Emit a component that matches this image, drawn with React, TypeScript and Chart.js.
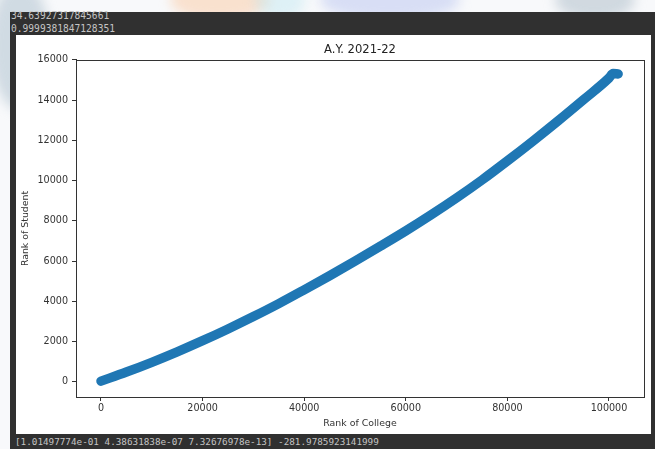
import React, { useEffect, useRef } from "react";
import { Chart, registerables } from "chart.js";

Chart.register(...registerables);

// College rank (x) against the closing student rank (y), read along the fitted band
const collegeRank = [
  0, 5000, 10000, 15000, 20000, 25000, 30000, 35000, 40000, 45000, 50000, 55000,
  60000, 65000, 70000, 75000, 80000, 85000, 90000, 95000, 100000, 100800, 101800,
];
const studentRank = [
  30, 480, 965, 1485, 2040, 2625, 3240, 3885, 4570, 5270, 5995, 6740,
  7500, 8300, 9140, 10030, 10980, 11960, 12975, 14025, 15100, 15320, 15300,
];

const xTickValues = [0, 20000, 40000, 60000, 80000, 100000];
const yTickValues = [0, 2000, 4000, 6000, 8000, 10000, 12000, 14000, 16000];

const chartTitle = "A.Y. 2021-22";
const xAxisLabel = "Rank of College";
const yAxisLabel = "Rank of Student";

// Console output printed around the figure
const headerLines = ["34.63927317845661", "0.9999381847128351"];
const footerLine = "[1.01497774e-01 4.38631838e-07 7.32676978e-13] -281.9785923141999";

const BLUE = "#1f77b4";
const INK = "#333333";
const FONT = "'DejaVu Sans', sans-serif";
const MONO = "'DejaVu Sans Mono', monospace";

// Full rectangular frame around the axes (top and right spines included)
const axesBox = {
  id: "axesBox",
  afterDraw(chart: any) {
    const { ctx, chartArea } = chart;
    ctx.save();
    ctx.strokeStyle = INK;
    ctx.lineWidth = 1;
    ctx.strokeRect(
      Math.round(chartArea.left) + 0.5,
      Math.round(chartArea.top) + 0.5,
      Math.round(chartArea.right - chartArea.left),
      Math.round(chartArea.bottom - chartArea.top)
    );
    ctx.restore();
  },
};

export default function App() {
  const canvasRef = useRef<HTMLCanvasElement>(null);

  useEffect(() => {
    document.body.style.margin = "0";
    const canvas = canvasRef.current;
    if (!canvas) return;

    const points = collegeRank.map((x, i) => ({ x, y: studentRank[i] }));

    const tickFont = { family: FONT, size: 9.6 };
    const axisCommon = {
      type: "linear" as const,
      grid: {
        display: true,
        drawOnChartArea: false,
        drawTicks: true,
        tickLength: 4,
        color: INK,
        lineWidth: 1,
      },
      border: { display: true, color: INK, width: 1 },
    };

    const chart = new Chart(canvas, {
      type: "scatter",
      data: {
        datasets: [
          {
            data: points,
            showLine: true,
            borderColor: BLUE,
            backgroundColor: BLUE,
            borderWidth: 9.5,
            borderCapStyle: "round",
            borderJoinStyle: "round",
            cubicInterpolationMode: "monotone",
            pointRadius: 0,
            pointHoverRadius: 0,
          } as any,
        ],
      },
      options: {
        responsive: false,
        maintainAspectRatio: false,
        animation: false,
        devicePixelRatio: 1,
        events: [],
        layout: { padding: { top: 0, right: 7, bottom: 0, left: 0 } },
        plugins: {
          legend: { display: false },
          tooltip: { enabled: false },
          title: {
            display: true,
            text: chartTitle,
            fullSize: false,
            color: "#222222",
            font: { family: FONT, size: 11.6, weight: "normal" },
            padding: { top: 8, bottom: 3 },
          },
        },
        scales: {
          x: {
            ...axisCommon,
            min: -4920,
            max: 106890,
            afterBuildTicks: (scale: any) => {
              scale.ticks = xTickValues.map((value) => ({ value }));
            },
            afterFit: (scale: any) => {
              scale.height = 37;
            },
            ticks: {
              color: INK,
              font: tickFont,
              padding: 2,
              maxRotation: 0,
              autoSkip: false,
              callback: (v: any) => String(v),
            },
            title: {
              display: true,
              text: xAxisLabel,
              color: INK,
              font: { family: FONT, size: 9.4 },
              padding: { top: 0, bottom: 5 },
            },
          },
          y: {
            ...axisCommon,
            min: -760,
            max: 16000,
            afterBuildTicks: (scale: any) => {
              scale.ticks = yTickValues.map((value) => ({ value }));
            },
            afterFit: (scale: any) => {
              scale.width = 60;
            },
            ticks: {
              color: INK,
              font: tickFont,
              padding: 4,
              autoSkip: false,
              callback: (v: any) => String(v),
            },
            title: {
              display: true,
              text: yAxisLabel,
              color: INK,
              font: { family: FONT, size: 9.4 },
              padding: { top: 4, bottom: 0 },
            },
          },
        },
      } as any,
      plugins: [axesBox],
    });

    return () => chart.destroy();
  }, []);

  const blob = (style: React.CSSProperties): React.CSSProperties => ({
    position: "absolute",
    borderRadius: "50%",
    filter: "blur(6px)",
    ...style,
  });

  return (
    <div
      style={{
        position: "relative",
        width: 655,
        height: 449,
        overflow: "hidden",
        background: "#f8f9fb",
      }}
    >
      {/* faint page watermark behind the console frame */}
      <div style={blob({ left: -10, top: -20, width: 60, height: 130, background: "rgba(160,182,198,0.45)" })} />
      <div style={blob({ left: 170, top: -20, width: 100, height: 40, background: "rgba(250,196,150,0.45)" })} />
      <div style={blob({ left: 255, top: -20, width: 50, height: 40, background: "rgba(190,230,240,0.45)" })} />
      <div style={blob({ left: 320, top: -20, width: 140, height: 40, background: "rgba(190,200,240,0.55)" })} />
      <div style={blob({ left: 555, top: -20, width: 80, height: 40, background: "rgba(170,186,198,0.5)" })} />

      {/* console frame */}
      <div
        style={{
          position: "absolute",
          left: 10,
          top: 12,
          width: 645,
          height: 437,
          background: "#303030",
        }}
      />
      {headerLines.map((line, i) => (
        <div
          key={line}
          style={{
            position: "absolute",
            left: 11,
            top: 10 + i * 12.5,
            height: 12,
            lineHeight: "12px",
            fontFamily: MONO,
            fontSize: 9.6,
            color: "#c4c4c4",
            whiteSpace: "pre",
          }}
        >
          {line}
        </div>
      ))}
      <div
        style={{
          position: "absolute",
          left: 15,
          top: 436,
          height: 12,
          lineHeight: "12px",
          fontFamily: MONO,
          fontSize: 9.3,
          color: "#c4c4c4",
          whiteSpace: "pre",
        }}
      >
        {footerLine}
      </div>

      {/* figure panel */}
      <div
        style={{
          position: "absolute",
          left: 16,
          top: 35,
          width: 635,
          height: 399,
          background: "#ffffff",
        }}
      >
        <canvas ref={canvasRef} width={635} height={399} style={{ display: "block" }} />
      </div>
    </div>
  );
}
